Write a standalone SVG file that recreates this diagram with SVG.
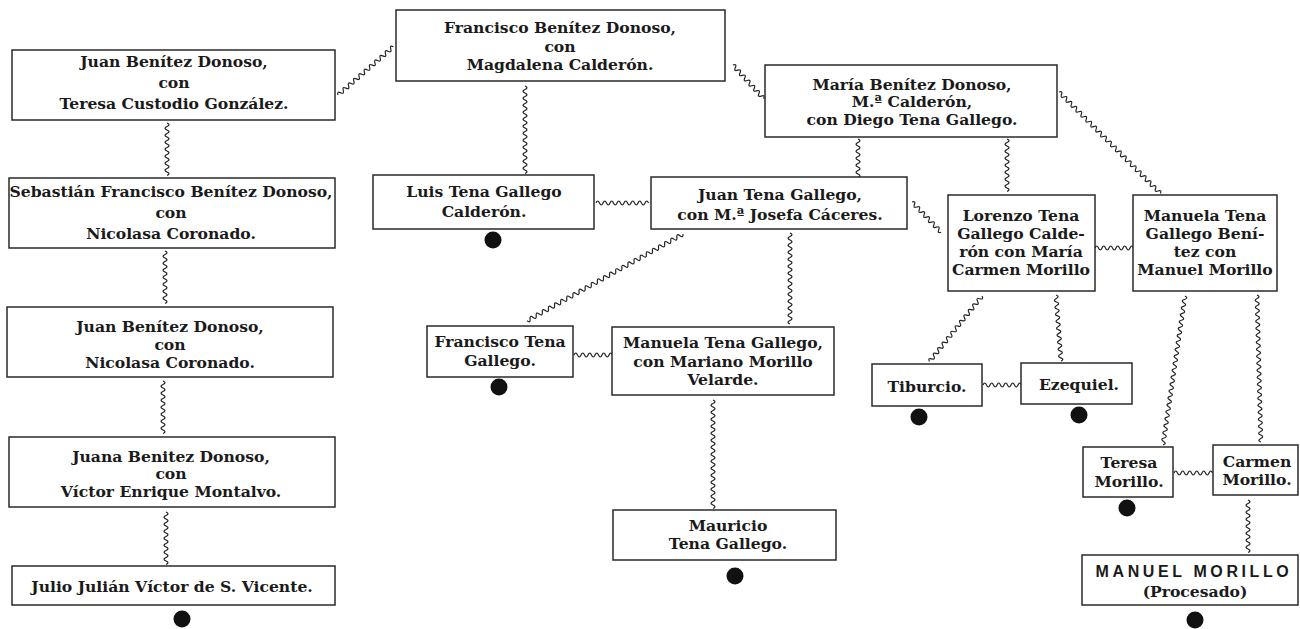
<svg xmlns="http://www.w3.org/2000/svg" width="1300" height="629" viewBox="0 0 1300 629">
<style>
.b{fill:#fff;stroke:#2a2a2a;stroke-width:1.5}
.t{font-family:"DejaVu Serif","Liberation Serif",serif;font-weight:bold;font-size:15.6px;fill:#1a1a1a;text-anchor:middle}
.s{font-family:"Liberation Sans","DejaVu Sans",sans-serif;font-weight:bold;font-size:16px;letter-spacing:3.6px;fill:#1a1a1a;text-anchor:middle}
.w{fill:none;stroke:#222;stroke-width:1.2}
.d{fill:#111}
</style>
<rect width="1300" height="629" fill="#fff"/>
<g id="connectors">
<path class="w" transform="translate(338 95) rotate(-41.1)" d="M0 0q1.75 -4 3.5 0t3.5 0 t3.5 0 t3.5 0 t3.5 0 t3.5 0 t3.5 0 t3.5 0 t3.5 0 t3.5 0 t3.5 0 t3.5 0 t3.5 0 t3.5 0 t3.5 0 t3.5 0 t3.5 0 t3.5 0 t3.5 0 t3.5 0 t3.5 0"/>
<path class="w" transform="translate(167 123) rotate(90)" d="M0 0q1.75 -4 3.5 0t3.5 0 t3.5 0 t3.5 0 t3.5 0 t3.5 0 t3.5 0 t3.5 0 t3.5 0 t3.5 0 t3.5 0 t3.5 0 t3.5 0 t3.5 0 t3.5 0"/>
<path class="w" transform="translate(165 251) rotate(90)" d="M0 0q1.75 -4 3.5 0t3.5 0 t3.5 0 t3.5 0 t3.5 0 t3.5 0 t3.5 0 t3.5 0 t3.5 0 t3.5 0 t3.5 0 t3.5 0 t3.5 0 t3.5 0 t3.5 0"/>
<path class="w" transform="translate(163 381) rotate(90)" d="M0 0q1.75 -4 3.5 0t3.5 0 t3.5 0 t3.5 0 t3.5 0 t3.5 0 t3.5 0 t3.5 0 t3.5 0 t3.5 0 t3.5 0 t3.5 0 t3.5 0 t3.5 0 t3.5 0"/>
<path class="w" transform="translate(166 512) rotate(90)" d="M0 0q1.75 -4 3.5 0t3.5 0 t3.5 0 t3.5 0 t3.5 0 t3.5 0 t3.5 0 t3.5 0 t3.5 0 t3.5 0 t3.5 0 t3.5 0 t3.5 0 t3.5 0 t3.5 0"/>
<path class="w" transform="translate(525 86) rotate(90)" d="M0 0q1.75 -4 3.5 0t3.5 0 t3.5 0 t3.5 0 t3.5 0 t3.5 0 t3.5 0 t3.5 0 t3.5 0 t3.5 0 t3.5 0 t3.5 0 t3.5 0 t3.5 0 t3.5 0 t3.5 0 t3.5 0 t3.5 0 t3.5 0 t3.5 0 t3.5 0 t3.5 0 t3.5 0 t3.5 0 t3.5 0"/>
<path class="w" transform="translate(733 65) rotate(47.7)" d="M0 0q1.75 -4 3.5 0t3.5 0 t3.5 0 t3.5 0 t3.5 0 t3.5 0 t3.5 0 t3.5 0 t3.5 0 t3.5 0 t3.5 0 t3.5 0 t3.5 0"/>
<path class="w" transform="translate(596 203)" d="M0 0q1.75 -4 3.5 0t3.5 0 t3.5 0 t3.5 0 t3.5 0 t3.5 0 t3.5 0 t3.5 0 t3.5 0 t3.5 0 t3.5 0 t3.5 0 t3.5 0 t3.5 0 t3.5 0"/>
<path class="w" transform="translate(858 139) rotate(90)" d="M0 0q1.75 -4 3.5 0t3.5 0 t3.5 0 t3.5 0 t3.5 0 t3.5 0 t3.5 0 t3.5 0 t3.5 0 t3.5 0 t3.5 0"/>
<path class="w" transform="translate(1007 139) rotate(90)" d="M0 0q1.75 -4 3.5 0t3.5 0 t3.5 0 t3.5 0 t3.5 0 t3.5 0 t3.5 0 t3.5 0 t3.5 0 t3.5 0 t3.5 0 t3.5 0 t3.5 0 t3.5 0 t3.5 0"/>
<path class="w" transform="translate(1059 92) rotate(45)" d="M0 0q1.75 -4 3.5 0t3.5 0 t3.5 0 t3.5 0 t3.5 0 t3.5 0 t3.5 0 t3.5 0 t3.5 0 t3.5 0 t3.5 0 t3.5 0 t3.5 0 t3.5 0 t3.5 0 t3.5 0 t3.5 0 t3.5 0 t3.5 0 t3.5 0 t3.5 0 t3.5 0 t3.5 0 t3.5 0 t3.5 0 t3.5 0 t3.5 0 t3.5 0 t3.5 0 t3.5 0 t3.5 0 t3.5 0 t3.5 0 t3.5 0 t3.5 0 t3.5 0 t3.5 0 t3.5 0 t3.5 0 t3.5 0 t3.5 0"/>
<path class="w" transform="translate(912 202) rotate(46)" d="M0 0q1.75 -4 3.5 0t3.5 0 t3.5 0 t3.5 0 t3.5 0 t3.5 0 t3.5 0 t3.5 0 t3.5 0 t3.5 0 t3.5 0 t3.5 0"/>
<path class="w" transform="translate(683 234) rotate(150.9)" d="M0 0q1.75 -4 3.5 0t3.5 0 t3.5 0 t3.5 0 t3.5 0 t3.5 0 t3.5 0 t3.5 0 t3.5 0 t3.5 0 t3.5 0 t3.5 0 t3.5 0 t3.5 0 t3.5 0 t3.5 0 t3.5 0 t3.5 0 t3.5 0 t3.5 0 t3.5 0 t3.5 0 t3.5 0 t3.5 0 t3.5 0 t3.5 0 t3.5 0 t3.5 0 t3.5 0 t3.5 0 t3.5 0 t3.5 0 t3.5 0 t3.5 0 t3.5 0 t3.5 0 t3.5 0 t3.5 0 t3.5 0 t3.5 0 t3.5 0 t3.5 0 t3.5 0 t3.5 0 t3.5 0 t3.5 0 t3.5 0 t3.5 0 t3.5 0 t3.5 0 t3.5 0"/>
<path class="w" transform="translate(790 233) rotate(90)" d="M0 0q1.75 -4 3.5 0t3.5 0 t3.5 0 t3.5 0 t3.5 0 t3.5 0 t3.5 0 t3.5 0 t3.5 0 t3.5 0 t3.5 0 t3.5 0 t3.5 0 t3.5 0 t3.5 0 t3.5 0 t3.5 0 t3.5 0 t3.5 0 t3.5 0 t3.5 0 t3.5 0 t3.5 0 t3.5 0 t3.5 0 t3.5 0"/>
<path class="w" transform="translate(574 355)" d="M0 0q1.75 -4 3.5 0t3.5 0 t3.5 0 t3.5 0 t3.5 0 t3.5 0 t3.5 0 t3.5 0 t3.5 0 t3.5 0 t3.5 0"/>
<path class="w" transform="translate(713 400) rotate(90)" d="M0 0q1.75 -4 3.5 0t3.5 0 t3.5 0 t3.5 0 t3.5 0 t3.5 0 t3.5 0 t3.5 0 t3.5 0 t3.5 0 t3.5 0 t3.5 0 t3.5 0 t3.5 0 t3.5 0 t3.5 0 t3.5 0 t3.5 0 t3.5 0 t3.5 0 t3.5 0 t3.5 0 t3.5 0 t3.5 0 t3.5 0 t3.5 0 t3.5 0 t3.5 0 t3.5 0 t3.5 0 t3.5 0"/>
<path class="w" transform="translate(1095 248)" d="M0 0q1.75 -4 3.5 0t3.5 0 t3.5 0 t3.5 0 t3.5 0 t3.5 0 t3.5 0 t3.5 0 t3.5 0 t3.5 0 t3.5 0"/>
<path class="w" transform="translate(982 296) rotate(128.7)" d="M0 0q1.75 -4 3.5 0t3.5 0 t3.5 0 t3.5 0 t3.5 0 t3.5 0 t3.5 0 t3.5 0 t3.5 0 t3.5 0 t3.5 0 t3.5 0 t3.5 0 t3.5 0 t3.5 0 t3.5 0 t3.5 0 t3.5 0 t3.5 0 t3.5 0 t3.5 0 t3.5 0 t3.5 0 t3.5 0"/>
<path class="w" transform="translate(1056 295) rotate(85.7)" d="M0 0q1.75 -4 3.5 0t3.5 0 t3.5 0 t3.5 0 t3.5 0 t3.5 0 t3.5 0 t3.5 0 t3.5 0 t3.5 0 t3.5 0 t3.5 0 t3.5 0 t3.5 0 t3.5 0 t3.5 0 t3.5 0 t3.5 0 t3.5 0"/>
<path class="w" transform="translate(983 385)" d="M0 0q1.75 -4 3.5 0t3.5 0 t3.5 0 t3.5 0 t3.5 0 t3.5 0 t3.5 0 t3.5 0 t3.5 0 t3.5 0 t3.5 0"/>
<path class="w" transform="translate(1185 296) rotate(98.4)" d="M0 0q1.75 -4 3.5 0t3.5 0 t3.5 0 t3.5 0 t3.5 0 t3.5 0 t3.5 0 t3.5 0 t3.5 0 t3.5 0 t3.5 0 t3.5 0 t3.5 0 t3.5 0 t3.5 0 t3.5 0 t3.5 0 t3.5 0 t3.5 0 t3.5 0 t3.5 0 t3.5 0 t3.5 0 t3.5 0 t3.5 0 t3.5 0 t3.5 0 t3.5 0 t3.5 0 t3.5 0 t3.5 0 t3.5 0 t3.5 0 t3.5 0 t3.5 0 t3.5 0 t3.5 0 t3.5 0 t3.5 0 t3.5 0 t3.5 0 t3.5 0 t3.5 0"/>
<path class="w" transform="translate(1257 295) rotate(88.5)" d="M0 0q1.75 -4 3.5 0t3.5 0 t3.5 0 t3.5 0 t3.5 0 t3.5 0 t3.5 0 t3.5 0 t3.5 0 t3.5 0 t3.5 0 t3.5 0 t3.5 0 t3.5 0 t3.5 0 t3.5 0 t3.5 0 t3.5 0 t3.5 0 t3.5 0 t3.5 0 t3.5 0 t3.5 0 t3.5 0 t3.5 0 t3.5 0 t3.5 0 t3.5 0 t3.5 0 t3.5 0 t3.5 0 t3.5 0 t3.5 0 t3.5 0 t3.5 0 t3.5 0 t3.5 0 t3.5 0 t3.5 0 t3.5 0 t3.5 0 t3.5 0"/>
<path class="w" transform="translate(1174 473)" d="M0 0q1.75 -4 3.5 0t3.5 0 t3.5 0 t3.5 0 t3.5 0 t3.5 0 t3.5 0 t3.5 0 t3.5 0 t3.5 0 t3.5 0"/>
<path class="w" transform="translate(1248 500) rotate(90)" d="M0 0q1.75 -4 3.5 0t3.5 0 t3.5 0 t3.5 0 t3.5 0 t3.5 0 t3.5 0 t3.5 0 t3.5 0 t3.5 0 t3.5 0 t3.5 0 t3.5 0 t3.5 0 t3.5 0"/>
</g>
<g id="juan-benitez-teresa">
<rect class="b" x="12" y="50" width="323" height="70"/>
<text class="t"><tspan x="174" y="67">Juan Benítez Donoso,</tspan><tspan x="174" y="88">con</tspan><tspan x="174" y="109">Teresa Custodio González.</tspan></text>
</g>
<g id="sebastian">
<rect class="b" x="9" y="178" width="326" height="70"/>
<text class="t"><tspan x="171" y="197">Sebastián Francisco Benítez Donoso,</tspan><tspan x="171" y="218">con</tspan><tspan x="171" y="239">Nicolasa Coronado.</tspan></text>
</g>
<g id="juan-benitez-nicolasa">
<rect class="b" x="7" y="307" width="326" height="70"/>
<text class="t"><tspan x="170" y="332">Juan Benítez Donoso,</tspan><tspan x="170" y="350">con</tspan><tspan x="170" y="368">Nicolasa Coronado.</tspan></text>
</g>
<g id="juana">
<rect class="b" x="9" y="437" width="326" height="70"/>
<text class="t"><tspan x="171" y="462">Juana Benitez Donoso,</tspan><tspan x="171" y="479">con</tspan><tspan x="171" y="497">Víctor Enrique Montalvo.</tspan></text>
</g>
<g id="julio">
<rect class="b" x="12" y="566" width="323" height="39"/>
<text class="t" x="172" y="592">Julio Julián Víctor de S. Vicente.</text>
<circle class="d" cx="182" cy="619" r="8.5"/>
</g>
<g id="francisco-benitez">
<rect class="b" x="396" y="10" width="329" height="71"/>
<text class="t"><tspan x="560" y="33">Francisco Benítez Donoso,</tspan><tspan x="560" y="52">con</tspan><tspan x="560" y="70">Magdalena Calderón.</tspan></text>
</g>
<g id="luis">
<rect class="b" x="373" y="175" width="221" height="54"/>
<text class="t"><tspan x="484" y="197">Luis Tena Gallego</tspan><tspan x="484" y="217">Calderón.</tspan></text>
<circle class="d" cx="493" cy="240" r="8.5"/>
</g>
<g id="juan-tena">
<rect class="b" x="651" y="177" width="256" height="52"/>
<text class="t"><tspan x="780" y="200">Juan Tena Gallego,</tspan><tspan x="780" y="220">con M.ª Josefa Cáceres.</tspan></text>
</g>
<g id="maria">
<rect class="b" x="765" y="65" width="292" height="72"/>
<text class="t"><tspan x="912" y="90">María Benítez Donoso,</tspan><tspan x="912" y="107">M.ª Calderón,</tspan><tspan x="912" y="125">con Diego Tena Gallego.</tspan></text>
</g>
<g id="lorenzo">
<rect class="b" x="948" y="195" width="147" height="96"/>
<text class="t"><tspan x="1021" y="221">Lorenzo Tena</tspan><tspan x="1021" y="239">Gallego Calde-</tspan><tspan x="1021" y="257">rón con María</tspan><tspan x="1021" y="275">Carmen Morillo</tspan></text>
</g>
<g id="manuela-morillo">
<rect class="b" x="1133" y="195" width="144" height="96"/>
<text class="t"><tspan x="1205" y="221">Manuela Tena</tspan><tspan x="1205" y="239">Gallego Bení-</tspan><tspan x="1205" y="257">tez con</tspan><tspan x="1205" y="275">Manuel Morillo</tspan></text>
</g>
<g id="francisco-tena">
<rect class="b" x="427" y="326" width="146" height="51"/>
<text class="t"><tspan x="500" y="347">Francisco Tena</tspan><tspan x="500" y="366">Gallego.</tspan></text>
<circle class="d" cx="499" cy="387" r="8.5"/>
</g>
<g id="manuela-tena-gallego">
<rect class="b" x="612" y="327" width="222" height="68"/>
<text class="t"><tspan x="723" y="348">Manuela Tena Gallego,</tspan><tspan x="723" y="367">con Mariano Morillo</tspan><tspan x="723" y="385">Velarde.</tspan></text>
</g>
<g id="mauricio">
<rect class="b" x="613" y="510" width="223" height="50"/>
<text class="t"><tspan x="728" y="531">Mauricio</tspan><tspan x="728" y="549">Tena Gallego.</tspan></text>
<circle class="d" cx="735" cy="576" r="8.5"/>
</g>
<g id="tiburcio">
<rect class="b" x="872" y="364" width="110" height="42"/>
<text class="t" x="927" y="392">Tiburcio.</text>
<circle class="d" cx="919" cy="417" r="8.5"/>
</g>
<g id="ezequiel">
<rect class="b" x="1021" y="363" width="111" height="41"/>
<text class="t" x="1079" y="390">Ezequiel.</text>
<circle class="d" cx="1079" cy="415" r="8.5"/>
</g>
<g id="teresa">
<rect class="b" x="1083" y="447" width="90" height="50"/>
<text class="t"><tspan x="1129" y="468">Teresa</tspan><tspan x="1129" y="487">Morillo.</tspan></text>
<circle class="d" cx="1127" cy="508" r="8.5"/>
</g>
<g id="carmen">
<rect class="b" x="1213" y="445" width="85" height="50"/>
<text class="t"><tspan x="1257" y="467">Carmen</tspan><tspan x="1257" y="485">Morillo.</tspan></text>
</g>
<g id="manuel-morillo">
<rect class="b" x="1082" y="555" width="216" height="50"/>
<text class="s" x="1194" y="577">MANUEL MORILLO</text>
<text class="t" x="1195" y="597">(Procesado)</text>
<circle class="d" cx="1195" cy="620" r="8.5"/>
</g>
</svg>
